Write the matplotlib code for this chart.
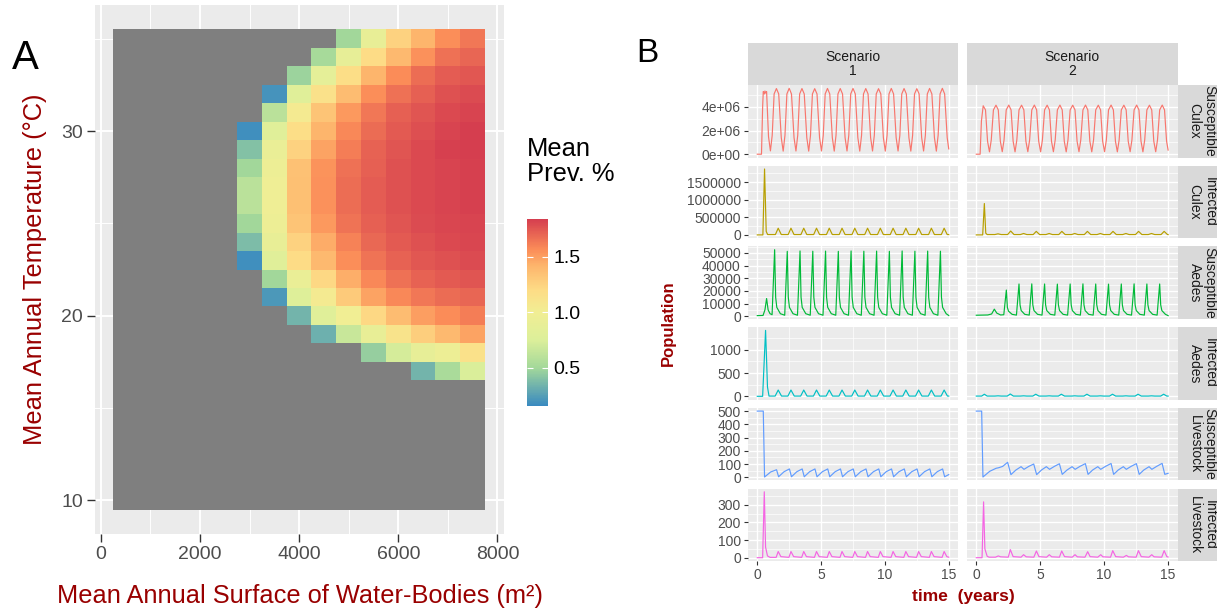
import numpy as np
import matplotlib.pyplot as plt
from matplotlib.colors import LinearSegmentedColormap, Normalize

plt.rcParams['font.family'] = ['Liberation Sans', 'DejaVu Sans']

#%% Panel A data: mean prevalence (%) per water surface (m2) x temperature (C)
water_area = [500, 1000, 1500, 2000, 2500, 3000, 3500, 4000,
              4500, 5000, 5500, 6000, 6500, 7000, 7500]
temperature = [10, 11, 12, 13, 14, 15, 16, 17, 18, 19, 20, 21, 22,
               23, 24, 25, 26, 27, 28, 29, 30, 31, 32, 33, 34, 35]
# values per temperature row, right-aligned on the largest surfaces (rest is NA)
prev_by_temp = {
    35: [0.50, 0.90, 1.25, 1.42, 1.56, 1.64],
    34: [0.52, 0.88, 1.20, 1.40, 1.55, 1.66, 1.70],
    33: [0.48, 0.85, 1.18, 1.42, 1.57, 1.67, 1.73, 1.75],
    32: [0.20, 0.80, 1.15, 1.38, 1.56, 1.66, 1.72, 1.77, 1.79],
    31: [0.60, 1.05, 1.33, 1.52, 1.64, 1.72, 1.76, 1.80, 1.82],
    30: [0.18, 0.80, 1.18, 1.42, 1.58, 1.68, 1.74, 1.78, 1.82, 1.84],
    29: [0.40, 0.92, 1.25, 1.48, 1.62, 1.71, 1.76, 1.80, 1.83, 1.84],
    28: [0.50, 0.95, 1.35, 1.54, 1.66, 1.72, 1.77, 1.80, 1.82, 1.83],
    27: [0.60, 0.98, 1.36, 1.55, 1.67, 1.73, 1.77, 1.80, 1.82, 1.83],
    26: [0.60, 0.98, 1.36, 1.55, 1.67, 1.73, 1.77, 1.80, 1.82, 1.83],
    25: [0.50, 0.95, 1.33, 1.52, 1.65, 1.72, 1.76, 1.79, 1.81, 1.82],
    24: [0.38, 0.90, 1.25, 1.45, 1.60, 1.69, 1.74, 1.77, 1.80, 1.81],
    23: [0.18, 0.80, 1.20, 1.40, 1.56, 1.65, 1.71, 1.75, 1.77, 1.79],
    22: [0.50, 0.92, 1.22, 1.44, 1.58, 1.66, 1.71, 1.74, 1.76],
    21: [0.22, 0.78, 1.05, 1.30, 1.48, 1.58, 1.64, 1.68, 1.70],
    20: [0.35, 0.80, 1.00, 1.22, 1.38, 1.50, 1.57, 1.62],
    19: [0.33, 0.66, 0.90, 1.12, 1.28, 1.40, 1.48],
    18: [0.46, 0.72, 0.88, 0.95, 1.15],
    17: [0.35, 0.53, 0.74],
}
prev_range = (0.16, 1.84)
# spectral-like scale as it appears in the picture (blue low, red high)
scale_stops = [0.0, 0.202, 0.351, 0.5, 0.619, 0.75, 0.839, 1.0]
scale_colours = ['#3A8AC0', '#A3D89A', '#DCEF9A', '#F1EE94',
                 '#FDDC86', '#FDB56C', '#FB8C58', '#D53E4F']

#%% Panel B data: (time in years, value) read off each facet
# Susceptible Culex, in millions
s_culex_1 = [
    (0.00, 0.00), (0.33, 0.00), (0.42, 4.00), (0.47, 5.30), (0.55, 5.10), (0.60, 5.35), (0.68, 5.15), (0.73, 5.30), (0.88, 1.50),
    (1.03, 0.28), (1.17, 1.60), (1.32, 5.10), (1.50, 5.56), (1.68, 5.10), (1.88, 1.40),
    (2.03, 0.26), (2.17, 1.60), (2.32, 5.10), (2.50, 5.58), (2.68, 5.10), (2.88, 1.40),
    (3.03, 0.27), (3.17, 1.60), (3.32, 5.10), (3.50, 5.56), (3.68, 5.10), (3.88, 1.40),
    (4.03, 0.26), (4.17, 1.60), (4.32, 5.10), (4.50, 5.55), (4.68, 5.10), (4.88, 1.40),
    (5.03, 0.27), (5.17, 1.60), (5.32, 5.10), (5.50, 5.57), (5.68, 5.10), (5.88, 1.40),
    (6.03, 0.26), (6.17, 1.60), (6.32, 5.10), (6.50, 5.56), (6.68, 5.10), (6.88, 1.40),
    (7.03, 0.27), (7.17, 1.60), (7.32, 5.10), (7.50, 5.57), (7.68, 5.10), (7.88, 1.40),
    (8.03, 0.26), (8.17, 1.60), (8.32, 5.10), (8.50, 5.56), (8.68, 5.10), (8.88, 1.40),
    (9.03, 0.27), (9.17, 1.60), (9.32, 5.10), (9.50, 5.55), (9.68, 5.10), (9.88, 1.40),
    (10.03, 0.26), (10.17, 1.60), (10.32, 5.10), (10.50, 5.57), (10.68, 5.10), (10.88, 1.40),
    (11.03, 0.27), (11.17, 1.60), (11.32, 5.10), (11.50, 5.56), (11.68, 5.10), (11.88, 1.40),
    (12.03, 0.26), (12.17, 1.60), (12.32, 5.10), (12.50, 5.55), (12.68, 5.10), (12.88, 1.40),
    (13.03, 0.27), (13.17, 1.60), (13.32, 5.10), (13.50, 5.57), (13.68, 5.10), (13.88, 1.40),
    (14.03, 0.26), (14.17, 1.60), (14.32, 5.10), (14.50, 5.58), (14.68, 5.10), (14.88, 1.40),
    (15.00, 0.45),
]
s_culex_2 = [
    (0.00, 0.00), (0.30, 0.00), (0.40, 2.80), (0.54, 4.10), (0.72, 3.75), (0.88, 1.10),
    (1.03, 0.20), (1.17, 1.20), (1.34, 3.75), (1.54, 4.15), (1.72, 3.75), (1.88, 1.10),
    (2.03, 0.21), (2.17, 1.20), (2.34, 3.75), (2.54, 4.16), (2.72, 3.75), (2.88, 1.10),
    (3.03, 0.20), (3.17, 1.20), (3.34, 3.75), (3.54, 4.15), (3.72, 3.75), (3.88, 1.10),
    (4.03, 0.21), (4.17, 1.20), (4.34, 3.75), (4.54, 4.16), (4.72, 3.75), (4.88, 1.10),
    (5.03, 0.20), (5.17, 1.20), (5.34, 3.75), (5.54, 4.15), (5.72, 3.75), (5.88, 1.10),
    (6.03, 0.21), (6.17, 1.20), (6.34, 3.75), (6.54, 4.16), (6.72, 3.75), (6.88, 1.10),
    (7.03, 0.20), (7.17, 1.20), (7.34, 3.75), (7.54, 4.15), (7.72, 3.75), (7.88, 1.10),
    (8.03, 0.21), (8.17, 1.20), (8.34, 3.75), (8.54, 4.16), (8.72, 3.75), (8.88, 1.10),
    (9.03, 0.20), (9.17, 1.20), (9.34, 3.75), (9.54, 4.15), (9.72, 3.75), (9.88, 1.10),
    (10.03, 0.21), (10.17, 1.20), (10.34, 3.75), (10.54, 4.16), (10.72, 3.75), (10.88, 1.10),
    (11.03, 0.20), (11.17, 1.20), (11.34, 3.75), (11.54, 4.15), (11.72, 3.75), (11.88, 1.10),
    (12.03, 0.21), (12.17, 1.20), (12.34, 3.75), (12.54, 4.16), (12.72, 3.75), (12.88, 1.10),
    (13.03, 0.20), (13.17, 1.20), (13.34, 3.75), (13.54, 4.15), (13.72, 3.75), (13.88, 1.10),
    (14.03, 0.21), (14.17, 1.20), (14.34, 3.75), (14.54, 4.16), (14.72, 3.75), (14.88, 1.10),
    (15.00, 0.35),
]
# Infected Culex, in millions
i_culex_1 = [
    (0.00, 0.00), (0.44, 0.00), (0.57, 1.87), (0.70, 0.10), (0.81, 0.01),
    (1.42, 0.01), (1.64, 0.19), (1.88, 0.01), (2.42, 0.01), (2.64, 0.19), (2.88, 0.01),
    (3.42, 0.01), (3.64, 0.19), (3.88, 0.01), (4.42, 0.01), (4.64, 0.19), (4.88, 0.01),
    (5.42, 0.01), (5.64, 0.19), (5.88, 0.01), (6.42, 0.01), (6.64, 0.19), (6.88, 0.01),
    (7.42, 0.01), (7.64, 0.19), (7.88, 0.01), (8.42, 0.01), (8.64, 0.19), (8.88, 0.01),
    (9.42, 0.01), (9.64, 0.19), (9.88, 0.01), (10.42, 0.01), (10.64, 0.19), (10.88, 0.01),
    (11.42, 0.01), (11.64, 0.19), (11.88, 0.01), (12.42, 0.01), (12.64, 0.19), (12.88, 0.01),
    (13.42, 0.01), (13.64, 0.19), (13.88, 0.01), (14.42, 0.01), (14.64, 0.19), (14.88, 0.01),
    (15.00, 0.01),
]
i_culex_2 = [
    (0.00, 0.00), (0.50, 0.00), (0.63, 0.89), (0.74, 0.05), (0.85, 0.01),
    (1.45, 0.01), (1.70, 0.03), (1.95, 0.01), (2.45, 0.01), (2.69, 0.11), (2.95, 0.01),
    (3.45, 0.01), (3.70, 0.04), (3.95, 0.01), (4.45, 0.01), (4.69, 0.10), (4.95, 0.01),
    (5.45, 0.01), (5.70, 0.04), (5.95, 0.01), (6.45, 0.01), (6.69, 0.10), (6.95, 0.01),
    (7.45, 0.01), (7.70, 0.04), (7.95, 0.01), (8.45, 0.01), (8.69, 0.10), (8.95, 0.01),
    (9.45, 0.01), (9.70, 0.04), (9.95, 0.01), (10.45, 0.01), (10.69, 0.10), (10.95, 0.01),
    (11.45, 0.01), (11.70, 0.04), (11.95, 0.01), (12.45, 0.01), (12.69, 0.10), (12.95, 0.01),
    (13.45, 0.01), (13.70, 0.04), (13.95, 0.01), (14.45, 0.01), (14.69, 0.10), (14.95, 0.01),
    (15.00, 0.01),
]
# Susceptible Aedes, in thousands
s_aedes_1 = [
    (0.00, 0.5), (0.45, 0.6), (0.60, 5.0), (0.73, 14.0), (0.85, 5.0), (1.00, 2.0), (1.16, 1.2),
    (1.36, 52.6), (1.44, 15.0), (1.53, 7.0), (1.81, 2.0),
    (2.15, 0.8), (2.35, 51.3), (2.43, 15.0), (2.52, 7.0), (2.80, 2.0),
    (3.15, 0.8), (3.35, 51.6), (3.43, 15.0), (3.52, 7.0), (3.80, 2.0),
    (4.15, 0.8), (4.35, 51.4), (4.43, 15.0), (4.52, 7.0), (4.80, 2.0),
    (5.15, 0.8), (5.35, 51.5), (5.43, 15.0), (5.52, 7.0), (5.80, 2.0),
    (6.15, 0.8), (6.35, 51.3), (6.43, 15.0), (6.52, 7.0), (6.80, 2.0),
    (7.15, 0.8), (7.35, 51.6), (7.43, 15.0), (7.52, 7.0), (7.80, 2.0),
    (8.15, 0.8), (8.35, 51.4), (8.43, 15.0), (8.52, 7.0), (8.80, 2.0),
    (9.15, 0.8), (9.35, 51.5), (9.43, 15.0), (9.52, 7.0), (9.80, 2.0),
    (10.15, 0.8), (10.35, 51.3), (10.43, 15.0), (10.52, 7.0), (10.80, 2.0),
    (11.15, 0.8), (11.35, 51.6), (11.43, 15.0), (11.52, 7.0), (11.80, 2.0),
    (12.15, 0.8), (12.35, 51.4), (12.43, 15.0), (12.52, 7.0), (12.80, 2.0),
    (13.15, 0.8), (13.35, 51.5), (13.43, 15.0), (13.52, 7.0), (13.80, 2.0),
    (14.15, 0.8), (14.35, 51.4), (14.43, 15.0), (14.52, 7.0), (14.80, 2.0),
    (15.00, 0.6),
]
s_aedes_2 = [
    (0.00, 0.8), (0.90, 1.0), (1.20, 1.8), (1.41, 5.6), (1.60, 2.5), (1.90, 1.0),
    (2.15, 1.2), (2.35, 20.7), (2.43, 7.0), (2.52, 4.0), (2.80, 1.5),
    (3.14, 0.9), (3.34, 25.5), (3.42, 9.0), (3.51, 4.5), (3.79, 1.5),
    (4.14, 0.9), (4.34, 25.6), (4.42, 9.0), (4.51, 4.5), (4.79, 1.5),
    (5.14, 0.9), (5.34, 25.5), (5.42, 9.0), (5.51, 4.5), (5.79, 1.5),
    (6.14, 0.9), (6.34, 25.4), (6.42, 9.0), (6.51, 4.5), (6.79, 1.5),
    (7.14, 0.9), (7.34, 25.5), (7.42, 9.0), (7.51, 4.5), (7.79, 1.5),
    (8.14, 0.9), (8.34, 25.6), (8.42, 9.0), (8.51, 4.5), (8.79, 1.5),
    (9.14, 0.9), (9.34, 25.5), (9.42, 9.0), (9.51, 4.5), (9.79, 1.5),
    (10.14, 0.9), (10.34, 25.4), (10.42, 9.0), (10.51, 4.5), (10.79, 1.5),
    (11.14, 0.9), (11.34, 25.5), (11.42, 9.0), (11.51, 4.5), (11.79, 1.5),
    (12.14, 0.9), (12.34, 25.6), (12.42, 9.0), (12.51, 4.5), (12.79, 1.5),
    (13.14, 0.9), (13.34, 25.5), (13.42, 9.0), (13.51, 4.5), (13.79, 1.5),
    (14.14, 0.9), (14.34, 25.5), (14.42, 9.0), (14.51, 4.5), (14.79, 1.5),
    (15.00, 0.5),
]
# Infected Aedes
i_aedes_1 = [
    (0.00, 0), (0.42, 0), (0.65, 1420), (0.80, 200), (0.92, 5),
    (1.40, 5), (1.64, 135), (1.90, 5), (2.40, 5), (2.64, 135), (2.90, 5),
    (3.40, 5), (3.64, 135), (3.90, 5), (4.40, 5), (4.64, 135), (4.90, 5),
    (5.40, 5), (5.64, 135), (5.90, 5), (6.40, 5), (6.64, 135), (6.90, 5),
    (7.40, 5), (7.64, 135), (7.90, 5), (8.40, 5), (8.64, 135), (8.90, 5),
    (9.40, 5), (9.64, 135), (9.90, 5), (10.40, 5), (10.64, 135), (10.90, 5),
    (11.40, 5), (11.64, 135), (11.90, 5), (12.40, 5), (12.64, 135), (12.90, 5),
    (13.40, 5), (13.64, 135), (13.90, 5), (14.40, 5), (14.64, 135), (14.90, 5),
    (15.00, 5),
]
i_aedes_2 = [
    (0.00, 5), (0.42, 5), (0.63, 45), (0.85, 5),
    (1.45, 5), (1.70, 10), (1.95, 5), (2.42, 5), (2.66, 50), (2.90, 5),
    (3.45, 5), (3.70, 10), (3.95, 5), (4.42, 5), (4.65, 45), (4.90, 5),
    (5.45, 5), (5.70, 10), (5.95, 5), (6.42, 5), (6.65, 45), (6.90, 5),
    (7.45, 5), (7.70, 10), (7.95, 5), (8.42, 5), (8.65, 45), (8.90, 5),
    (9.45, 5), (9.70, 10), (9.95, 5), (10.42, 5), (10.65, 45), (10.90, 5),
    (11.45, 5), (11.70, 10), (11.95, 5), (12.42, 5), (12.65, 45), (12.90, 5),
    (13.45, 5), (13.70, 10), (13.95, 5), (14.42, 5), (14.65, 45), (14.90, 5),
    (15.00, 5),
]
# Susceptible Livestock
s_livestock_1 = [
    (0.00, 500), (0.47, 500), (0.57, 2), (1.05, 40), (1.51, 57), (1.67, 4),
    (2.10, 42), (2.52, 63), (2.68, 4), (3.10, 42), (3.52, 63), (3.68, 4),
    (4.10, 42), (4.52, 63), (4.68, 4), (5.10, 42), (5.52, 63), (5.68, 4),
    (6.10, 42), (6.52, 63), (6.68, 4), (7.10, 42), (7.52, 63), (7.68, 4),
    (8.10, 42), (8.52, 63), (8.68, 4), (9.10, 42), (9.52, 63), (9.68, 4),
    (10.10, 42), (10.52, 63), (10.68, 4), (11.10, 42), (11.52, 63), (11.68, 4),
    (12.10, 42), (12.52, 63), (12.68, 4), (13.10, 42), (13.52, 63), (13.68, 4),
    (14.10, 42), (14.52, 63), (14.68, 4),
    (15.00, 20),
]
s_livestock_2 = [
    (0.00, 500), (0.42, 500), (0.52, 2), (1.05, 45), (1.55, 68), (1.75, 72), (2.06, 82), (2.45, 113), (2.71, 20),
    (3.10, 55), (3.50, 80), (3.73, 60), (4.10, 82), (4.49, 100), (4.72, 20),
    (5.10, 55), (5.48, 80), (5.73, 60), (6.10, 82), (6.50, 102), (6.72, 22),
    (7.10, 55), (7.49, 80), (7.73, 60), (8.10, 82), (8.53, 103), (8.74, 22),
    (9.10, 55), (9.50, 80), (9.73, 60), (10.10, 82), (10.54, 104), (10.74, 22),
    (11.10, 55), (11.50, 80), (11.73, 60), (12.10, 82), (12.52, 103), (12.74, 22),
    (13.10, 55), (13.51, 80), (13.73, 60), (14.10, 82), (14.53, 105), (14.74, 22),
    (15.00, 30),
]
# Infected Livestock
i_livestock_1 = [
    (0.00, 0), (0.42, 0), (0.55, 373), (0.65, 60), (0.80, 10), (1.00, 2),
    (1.48, 2), (1.64, 35), (1.85, 6), (2.48, 2), (2.64, 35), (2.85, 6),
    (3.48, 2), (3.64, 35), (3.85, 6), (4.48, 2), (4.64, 35), (4.85, 6),
    (5.48, 2), (5.64, 35), (5.85, 6), (6.48, 2), (6.64, 35), (6.85, 6),
    (7.48, 2), (7.64, 35), (7.85, 6), (8.48, 2), (8.64, 35), (8.85, 6),
    (9.48, 2), (9.64, 35), (9.85, 6), (10.48, 2), (10.64, 35), (10.85, 6),
    (11.48, 2), (11.64, 35), (11.85, 6), (12.48, 2), (12.64, 35), (12.85, 6),
    (13.48, 2), (13.64, 35), (13.85, 6), (14.48, 2), (14.64, 35), (14.85, 6),
    (15.00, 3),
]
i_livestock_2 = [
    (0.00, 0), (0.45, 0), (0.57, 316), (0.67, 50), (0.85, 8), (1.00, 3),
    (1.50, 3), (1.72, 10), (1.90, 5), (2.50, 3), (2.66, 46), (2.88, 6),
    (3.50, 3), (3.70, 17), (3.90, 5), (4.50, 3), (4.70, 38), (4.90, 6),
    (5.50, 3), (5.71, 17), (5.90, 5), (6.50, 3), (6.68, 38), (6.90, 6),
    (7.50, 3), (7.72, 17), (7.90, 5), (8.50, 3), (8.71, 34), (8.90, 6),
    (9.50, 3), (9.73, 17), (9.90, 5), (10.50, 3), (10.67, 40), (10.90, 6),
    (11.50, 3), (11.74, 13), (11.90, 5), (12.50, 3), (12.68, 40), (12.90, 6),
    (13.50, 3), (13.72, 17), (13.90, 5), (14.50, 3), (14.69, 40), (14.90, 6),
    (15.00, 4),
]

scenarios = ['Scenario\n1', 'Scenario\n2']
# strip label, scenario 1, scenario 2, unit, y breaks, break labels, colour
facets = [
    ('Susceptible\nCulex', s_culex_1, s_culex_2, 1e6, [0, 2e6, 4e6], ['0e+00', '2e+06', '4e+06'], '#F8766D'),
    ('Infected\nCulex', i_culex_1, i_culex_2, 1e6, [0, 500000, 1000000, 1500000], None, '#B79F00'),
    ('Susceptible\nAedes', s_aedes_1, s_aedes_2, 1e3, [0, 10000, 20000, 30000, 40000, 50000], None, '#00BA38'),
    ('Infected\nAedes', i_aedes_1, i_aedes_2, 1, [0, 500, 1000], None, '#00BFC4'),
    ('Susceptible\nLivestock', s_livestock_1, s_livestock_2, 1, [0, 100, 200, 300, 400, 500], None, '#619CFF'),
    ('Infected\nLivestock', i_livestock_1, i_livestock_2, 1, [0, 100, 200, 300], None, '#F564E3'),
]

#%% Figure
W, H = 1217, 608
fig = plt.figure(figsize=(W/100, H/100), dpi=100)
RED = '#990000'
TXT = '#4D4D4D'

def px_axes(x0, y0, x1, y1):
    return fig.add_axes([x0/W, 1 - y1/H, (x1 - x0)/W, (y1 - y0)/H])

def ggplot_look(ax):
    ax.set_facecolor('#EBEBEB')
    ax.set_axisbelow(True)
    for s in ax.spines.values():
        s.set_visible(False)
    ax.tick_params(which='minor', length=0)

#%% Panel A
prev = np.full((len(temperature), len(water_area)), np.nan)
for i, t in enumerate(temperature):
    vals = prev_by_temp.get(t, [])
    if vals:
        prev[i, len(water_area) - len(vals):] = vals

cmap = LinearSegmentedColormap.from_list('spectral_r', list(zip(scale_stops, scale_colours)), N=256)
cmap.set_bad('#7F7F7F')

axA = px_axes(94.6, 5.4, 503.6, 533.7)
ggplot_look(axA)
mesh = axA.pcolormesh(water_area, temperature, np.ma.masked_invalid(prev),
                      shading='nearest', cmap=cmap, norm=Normalize(*prev_range))
axA.set_xlim(-125, 8125)
axA.set_ylim(8.2, 36.8)
axA.set_xticks([0, 2000, 4000, 6000, 8000])
axA.set_xticks([1000, 3000, 5000, 7000], minor=True)
axA.set_yticks([10, 20, 30])
axA.set_yticks([15, 25, 35], minor=True)
axA.grid(which='major', color='white', lw=1.4)
axA.grid(which='minor', color='white', lw=0.7)
axA.tick_params(which='major', length=5.5, width=1, color='#333333',
                labelsize=14, labelcolor=TXT, pad=3)

fig.text(300/W, 1 - 596/H, 'Mean Annual Surface of Water-Bodies (m²)',
         color=RED, fontsize=18.3, ha='center', va='center')
fig.text(35/W, 1 - 269/H, 'Mean Annual Temperature (°C)',
         color=RED, fontsize=18.4, ha='center', va='center', rotation=90)
fig.text(12/W, 1 - 69/H, 'A', fontsize=29)
fig.text(636/W, 1 - 62/H, 'B', fontsize=24)

cax = px_axes(526.6, 219, 548, 405.7)
cb = fig.colorbar(mesh, cax=cax, ticks=[0.5, 1.0, 1.5])
cb.outline.set_visible(False)
cax.set_yticklabels(['0.5', '1.0', '1.5'])
cax.tick_params(direction='in', color='white', length=4, width=0.8,
                left=True, right=True, labelsize=14, labelcolor='black', pad=4)
fig.text(527/W, 1 - 137/H, 'Mean\nPrev. %', fontsize=18.4, ha='left', va='top',
         linespacing=1.05)

#%% Panel B
col_x = [(747.7, 958.3), (966.7, 1177.7)]
row_top, row_h, row_gap = 85.0, 72.5, 8.2

for c, name in enumerate(scenarios):
    sax = px_axes(col_x[c][0], 42.7, col_x[c][1], row_top)
    sax.set_facecolor('#D9D9D9')
    sax.set_xticks([])
    sax.set_yticks([])
    for s in sax.spines.values():
        s.set_visible(False)
    sax.text(0.5, 0.5, name, ha='center', va='center', fontsize=10,
             color='#1A1A1A', transform=sax.transAxes, linespacing=1.05)

for r, (strip, pts1, pts2, unit, ybreaks, ylabels, colour) in enumerate(facets):
    y0 = row_top + r*(row_h + row_gap)
    y1 = y0 + row_h
    allv = [v*unit for _, v in pts1 + pts2]
    lo, hi = min(allv), max(allv)
    pad = 0.05*(hi - lo)
    step = ybreaks[1] - ybreaks[0]
    yminor = [ybreaks[0] - step/2 + k*step for k in range(len(ybreaks) + 2)]
    yminor = [m for m in yminor if lo - pad < m < hi + pad]

    for c, pts in enumerate((pts1, pts2)):
        ax = px_axes(col_x[c][0], y0, col_x[c][1], y1)
        ggplot_look(ax)
        ax.plot([p[0] for p in pts], [p[1]*unit for p in pts], color=colour, lw=0.85)
        ax.set_xlim(-0.75, 15.75)
        ax.set_ylim(lo - pad, hi + pad)
        ax.set_xticks([0, 5, 10, 15])
        ax.set_xticks([2.5, 7.5, 12.5], minor=True)
        ax.set_yticks(ybreaks)
        ax.set_yticks(yminor, minor=True)
        ax.grid(which='major', color='white', lw=1.0)
        ax.grid(which='minor', color='white', lw=0.5)
        ax.tick_params(which='major', length=3, width=0.8, color='#333333',
                       labelsize=10, labelcolor=TXT, pad=2)
        if c == 0:
            ax.set_yticklabels(ylabels if ylabels else ['%d' % b for b in ybreaks])
        else:
            ax.tick_params(axis='y', length=0, labelleft=False)
        if r == len(facets) - 1:
            ax.set_xticklabels(['0', '5', '10', '15'])
        else:
            ax.tick_params(axis='x', length=0, labelbottom=False)

    rax = px_axes(col_x[1][1], y0, W + 2, y1)
    rax.set_facecolor('#D9D9D9')
    rax.set_xticks([])
    rax.set_yticks([])
    for s in rax.spines.values():
        s.set_visible(False)
    fig.text(1202/W, 1 - (y0 + y1)/2/H, strip, rotation=-90, ha='center', va='center',
             fontsize=10, color='#1A1A1A', linespacing=1.05)

fig.text(668/W, 1 - 323/H, 'Population', rotation=90, fontweight='bold',
         color=RED, fontsize=12, ha='center', va='center')
fig.text(963/W, 1 - 596/H, 'time  (years)', fontweight='bold',
         color=RED, fontsize=12.5, ha='center', va='center')

plt.savefig('out.png', dpi=100)
